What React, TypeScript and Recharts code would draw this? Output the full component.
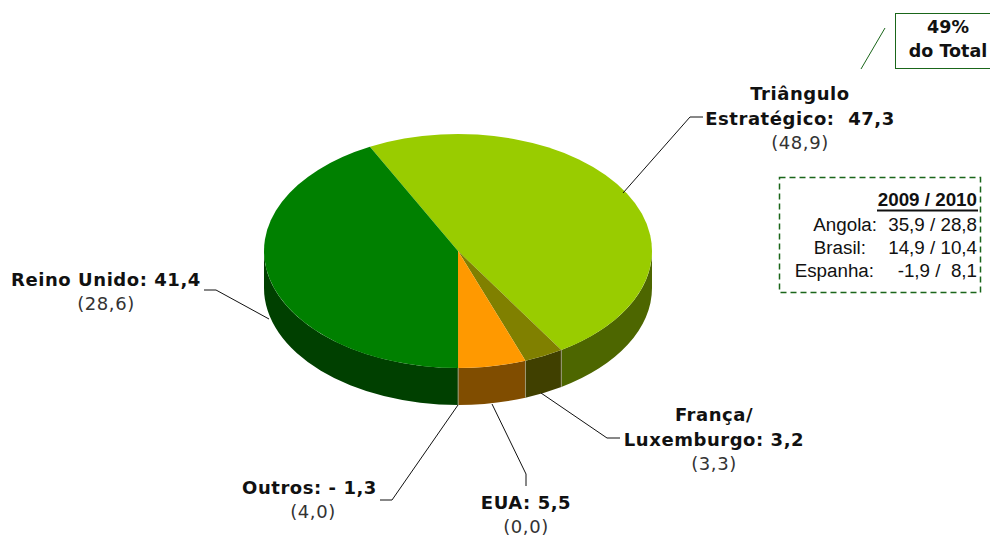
import { PieChart, Pie, Cell } from "recharts";

// Slices in drawing order, clockwise from the upper left. "Outros" is negative, so it has no slice.
const categories = ["Triângulo Estratégico", "França/Luxemburgo", "EUA", "Reino Unido"];
const values = [47.3, 3.2, 5.5, 41.4];
const topColors = ["#99CC00", "#808000", "#FF9900", "#008000"];
const wallColors = ["#4D6600", "#404000", "#804D00", "#004000"];

const tableHeader = "2009 / 2010";
const tableNames = ["Angola:", "Brasil:", "Espanha:"];
const tableValues = ["35,9 / 28,8", "14,9 / 10,4", "-1,9 /  8,1"];
const tableNameEdge = [877, 866, 874];

const CX = 458;
const CY = 251;
const RX = 194;
const RY = 117;
const DEPTH = 37;
const START = 117;
const LABEL_FONT = "'DejaVu Sans', Verdana, sans-serif";
const TABLE_FONT = "'Liberation Sans', Arial, sans-serif";

const rad = (a: number) => (a * Math.PI) / 180;
const px = (cx: number, a: number) => cx + RX * Math.cos(rad(a));
const py = (cy: number, a: number) => cy - RY * Math.sin(rad(a));

// pie sector squashed to an ellipse, so the disc looks tilted
function TopSlice(props: any) {
  const { cx, cy, startAngle, endAngle, fill } = props;
  const large = Math.abs(endAngle - startAngle) > 180 ? 1 : 0;
  const d = `M${cx},${cy} L${px(cx, startAngle)},${py(cy, startAngle)} A${RX},${RY} 0 ${large} 1 ${px(cx, endAngle)},${py(cy, endAngle)} Z`;
  return <path d={d} fill={fill} stroke="none" />;
}

// only the front half of the rim shows
function WallSlice(props: any) {
  const { cx, cy, startAngle, endAngle, fill } = props;
  const a1 = Math.min(startAngle, 0);
  const a2 = Math.max(endAngle, -180);
  if (a1 <= a2) return <g />;
  const x1 = px(cx, a1);
  const y1 = py(cy, a1);
  const x2 = px(cx, a2);
  const y2 = py(cy, a2);
  const d = `M${x1},${y1} A${RX},${RY} 0 0 1 ${x2},${y2} L${x2},${y2 + DEPTH} A${RX},${RY} 0 0 0 ${x1},${y1 + DEPTH} Z`;
  return (
    <g>
      <path d={d} fill={fill} stroke="none" />
      {a1 < 0 && <line x1={x1} y1={y1} x2={x1} y2={y1 + DEPTH} stroke="#A0A080" strokeWidth={0.8} />}
      {a2 > -180 && <line x1={x2} y1={y2} x2={x2} y2={y2 + DEPTH} stroke="#A0A080" strokeWidth={0.8} />}
    </g>
  );
}

const chartData = categories.map((name, i) => ({ name, value: values[i] }));

function Label({ x, y, lines, sub, subX }: { x: number; y: number; lines: string[]; sub: string; subX?: number }) {
  return (
    <g fontFamily={LABEL_FONT} textAnchor="middle">
      {lines.map((l, i) => (
        <text key={l} x={x} y={y + i * 25} fontSize={18} letterSpacing={0.55} fontWeight="bold" fill="#111111" xmlSpace="preserve">
          {l}
        </text>
      ))}
      <text x={subX ?? x} y={y + (lines.length - 1) * 25 + 24} fill="#333333" fontSize={18} letterSpacing={0.6}>
        {sub}
      </text>
    </g>
  );
}

export default function App() {
  return (
    <div style={{ position: "absolute", left: 0, top: 0, width: 990, height: 536, background: "#fff", overflow: "hidden" }}>
      <div style={{ position: "absolute", left: 0, top: 0 }}>
        <PieChart width={990} height={536} margin={{ top: 0, right: 0, bottom: 0, left: 0 }}>
          <Pie
            data={chartData}
            dataKey="value"
            cx={CX}
            cy={CY}
            outerRadius={RX}
            startAngle={START}
            endAngle={START - 360}
            paddingAngle={0}
            stroke="none"
            shape={WallSlice}
            inactiveShape={WallSlice}
            isAnimationActive={false}
          >
            {wallColors.map((c) => (
              <Cell key={c} fill={c} />
            ))}
          </Pie>
          <Pie
            data={chartData}
            dataKey="value"
            cx={CX}
            cy={CY}
            outerRadius={RX}
            startAngle={START}
            endAngle={START - 360}
            paddingAngle={0}
            stroke="none"
            shape={TopSlice}
            inactiveShape={TopSlice}
            isAnimationActive={false}
          >
            {topColors.map((c) => (
              <Cell key={c} fill={c} />
            ))}
          </Pie>
        </PieChart>
      </div>
      <svg width={990} height={536} style={{ position: "absolute", left: 0, top: 0 }}>
        <g fill="none" stroke="#111111" strokeWidth={1}>
          <polyline points="623,193 690,117 703,117" />
          <polyline points="204,290 216,290 269,319" />
          <polyline points="541,393 607,438 620,438" />
          <polyline points="492,404 526,474 526,486" />
          <polyline points="458,405 392,500 380,500" />
        </g>
        <Label x={800} y={100} lines={["Triângulo", "Estratégico:  47,3"]} sub="(48,9)" />
        <Label x={106} y={286} lines={["Reino Unido: 41,4"]} sub="(28,6)" />
        <Label x={714} y={421} lines={["França/", "Luxemburgo: 3,2"]} sub="(3,3)" />
        <Label x={526} y={509} lines={["EUA: 5,5"]} sub="(0,0)" />
        <Label x={309.5} y={494} lines={["Outros: - 1,3"]} sub="(4,0)" subX={313} />

        <line x1={861} y1={69} x2={885} y2={28} stroke="#1A661A" strokeWidth={1} />
        <rect x={895.5} y={13.5} width={100} height={55} fill="#fff" stroke="#1A661A" strokeWidth={1} />
        <g fontFamily={LABEL_FONT} fontWeight="bold" fontSize={17.5} textAnchor="middle" fill="#111111">
          <text x={948} y={33}>49%</text>
          <text x={948} y={57}>do Total</text>
        </g>

        <rect x={779.5} y={177.5} width={201} height={115} fill="none" stroke="#1A661A" strokeWidth={1.5} strokeDasharray="6 4" />
        <g fontFamily={TABLE_FONT} fontSize={18.8} fill="#111111">
          <text x={977} y={206} textAnchor="end" fontWeight="bold">{tableHeader}</text>
          <line x1={877} y1={210.5} x2={978} y2={210.5} stroke="#111111" strokeWidth={2} />
          {tableNames.map((n, i) => (
            <text key={n} x={tableNameEdge[i]} y={231 + i * 23} textAnchor="end">{n}</text>
          ))}
          {tableValues.map((v, i) => (
            <text key={v} x={977} y={231 + i * 23} textAnchor="end" xmlSpace="preserve">{v}</text>
          ))}
        </g>
      </svg>
    </div>
  );
}
